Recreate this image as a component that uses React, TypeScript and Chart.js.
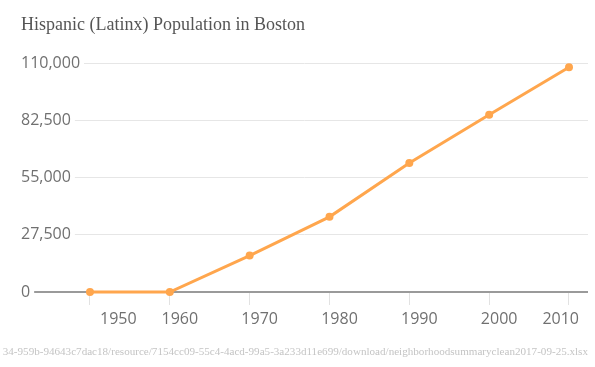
import React, { useEffect, useRef } from "react";
import { Chart, registerables } from "chart.js";

Chart.register(...registerables);

const TITLE = "Hispanic (Latinx) Population in Boston";
const SOURCE = "34-959b-94643c7dac18/resource/7154cc09-55c4-4acd-99a5-3a233d11e699/download/neighborhoodsummaryclean2017-09-25.xlsx";
const YEARS = [1950, 1960, 1970, 1980, 1990, 2000, 2010];
const POPULATION = [0, 0, 17500, 36100, 61950, 85100, 107950];
const Y_MIN = 0;
const Y_MAX = 110000;
const Y_STEP = 27500;
const X_MIN = 1941.36;
const X_MAX = 2012.38;

const LINE_COLOR = "#ffa64d";

export default function App() {
  const ref = useRef<HTMLCanvasElement | null>(null);

  useEffect(() => {
    if (!ref.current) return;
    const chart = new Chart(ref.current, {
      type: "line",
      data: {
        datasets: [
          {
            data: YEARS.map((y, i) => ({ x: y, y: POPULATION[i] })),
            borderColor: LINE_COLOR,
            backgroundColor: LINE_COLOR,
            borderWidth: 3,
            pointRadius: 4,
            pointBorderWidth: 0,
            pointBackgroundColor: LINE_COLOR,
            tension: 0,
            clip: false,
          },
        ],
      },
      options: {
        animation: false,
        responsive: false,
        maintainAspectRatio: false,
        layout: { padding: { left: 21, right: 7, top: 0, bottom: 32.8 } },
        plugins: {
          legend: { display: false },
          tooltip: { enabled: false },
          title: {
            display: true,
            text: TITLE,
            align: "start",
            color: "#555555",
            font: { family: "'Liberation Serif', serif", size: 18, weight: "normal", lineHeight: 1.2 },
            padding: { top: 14, bottom: 27.4 },
          },
        },
        scales: {
          x: {
            type: "linear",
            min: X_MIN,
            max: X_MAX,
            afterBuildTicks: (scale: any) => {
              scale.ticks = scale.ticks.filter(
                (t: any) => Math.abs(t.value - Math.round(t.value / 10) * 10) < 1e-6
              );
            },
            border: { display: false },
            grid: {
              drawOnChartArea: false,
              drawTicks: true,
              tickLength: 13,
              tickColor: "#e2e2e2",
              color: "#e2e2e2",
            },
            ticks: {
              stepSize: 10,
              includeBounds: false,
              autoSkip: false,
              maxRotation: 0,
              align: "inner",
              labelOffset: 10,
              padding: 5,
              color: "#707070",
              font: { family: "'Open Sans', sans-serif", size: 16 },
              callback: (v: any) => String(Math.round(Number(v))),
            },
          },
          y: {
            type: "linear",
            min: Y_MIN,
            max: Y_MAX,
            border: { display: false },
            grid: {
              drawTicks: false,
              color: (ctx: any) => (ctx.tick && ctx.tick.value === 0 ? "#9a9a9a" : "#e6e6e6"),
              lineWidth: (ctx: any) => (ctx.tick && ctx.tick.value === 0 ? 2 : 1),
            },
            ticks: {
              stepSize: Y_STEP,
              mirror: true,
              padding: 0,
              crossAlign: "near",
              showLabelBackdrop: true,
              backdropColor: "#ffffff",
              backdropPadding: { left: 0, right: 4, top: 2, bottom: 2 },
              color: "#707070",
              font: { family: "'Open Sans', sans-serif", size: 16 },
              callback: (v: any) => Number(v).toLocaleString("en-US"),
            },
          },
        },
      },
    });
    return () => chart.destroy();
  }, []);

  return (
    <div style={{ position: "fixed", left: 0, top: 0, width: 595, height: 367, background: "#ffffff" }}>
      <canvas ref={ref} width={595} height={367} style={{ display: "block", width: 595, height: 367 }} />
      <div
        style={{
          position: "absolute",
          left: 0,
          right: 7,
          top: 344,
          height: 14,
          display: "flex",
          justifyContent: "flex-end",
          overflow: "hidden",
          whiteSpace: "nowrap",
          fontFamily: "'Liberation Serif', serif",
          fontSize: 11.1,
          lineHeight: "14px",
          color: "#c4c4c4",
        }}
      >
        <span>{SOURCE}</span>
      </div>
    </div>
  );
}
